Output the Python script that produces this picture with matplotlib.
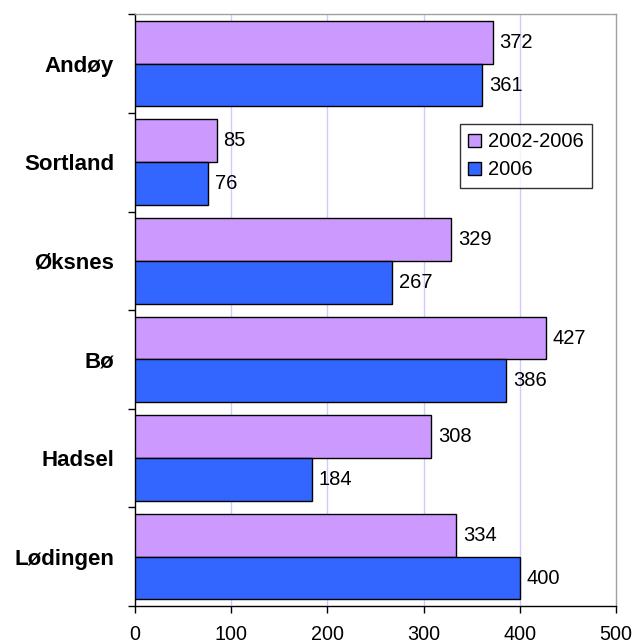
import matplotlib
matplotlib.use("Agg")
import matplotlib.pyplot as plt
import numpy as np

categories = ["Andøy", "Sortland", "Øksnes", "Bø", "Hadsel", "Lødingen"]
series_names = ["2002-2006", "2006"]
values_2002_2006 = [372, 85, 329, 427, 308, 334]
values_2006 = [361, 76, 267, 386, 184, 400]
x_ticks = [0, 100, 200, 300, 400, 500]

plt.rcParams['font.family'] = ['Liberation Sans', 'DejaVu Sans']

fig = plt.figure(figsize=(6.35, 6.43), dpi=100)
ax = fig.add_axes([135 / 635, 1 - 606.0 / 643, 481 / 635, 591.7 / 643])

pos = np.arange(len(categories))
h = 0.434
c1 = "#CC99FF"
c2 = "#3366FF"
b1 = ax.barh(pos - h / 2, values_2002_2006, height=h, color=c1, edgecolor="black",
             linewidth=1.0, label=series_names[0], zorder=3)
b2 = ax.barh(pos + h / 2, values_2006, height=h, color=c2, edgecolor="black",
             linewidth=1.0, label=series_names[1], zorder=3)

fs = 14.5
for bars, vals in ((b1, values_2002_2006), (b2, values_2006)):
    for rect, v in zip(bars, vals):
        ax.annotate(str(v), (v, rect.get_y() + rect.get_height() / 2),
                    xytext=(4.8, 0), textcoords="offset points",
                    ha="left", va="center", fontsize=fs, color="black")

ax.set_xlim(0, 500)
ax.set_ylim(len(categories) - 0.5, -0.5)
ax.set_xticks(x_ticks)
ax.set_xticklabels([str(t) for t in x_ticks], fontsize=14.2)
ax.tick_params(axis="x", direction="out", length=5, width=1, pad=8.5, colors="black")

ax.set_yticks(np.arange(-0.5, len(categories), 1.0))
ax.set_yticklabels([])
ax.tick_params(axis="y", which="major", direction="out", length=5, width=1)
ax.set_yticks(pos, minor=True)
ax.set_yticklabels(categories, minor=True, fontsize=16, fontweight="bold")
ax.tick_params(axis="y", which="minor", length=0, pad=15)

for x in x_ticks[1:-1]:
    ax.axvline(x, color="#CCCCFF", linewidth=1, zorder=1)

ax.spines["top"].set_color("#A0A0A0")
ax.spines["right"].set_color("#A0A0A0")
ax.spines["left"].set_color("black")
ax.spines["bottom"].set_color("black")
for s in ax.spines.values():
    s.set_linewidth(1)

leg = ax.legend(loc="upper left", bbox_to_anchor=(0.676, 0.814), borderaxespad=0,
                fontsize=fs, frameon=True, fancybox=False, edgecolor="black",
                handlelength=0.65, handleheight=0.65, handletextpad=0.35,
                labelspacing=0.45, borderpad=0.4)
leg.get_frame().set_linewidth(1)

fig.savefig("out.png", dpi=100, facecolor="white")
